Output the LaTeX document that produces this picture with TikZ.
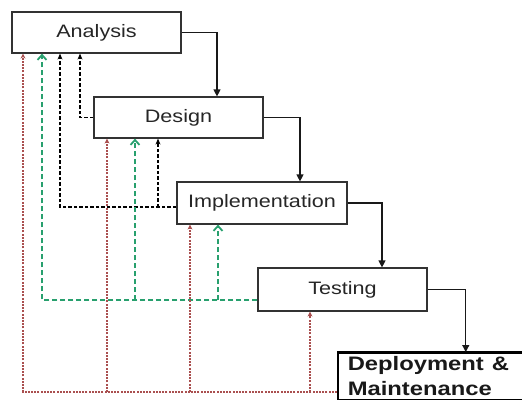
\documentclass[tikz,border=0pt]{standalone}
\usepackage{fontspec}
\setmainfont{Liberation Sans}
\usepackage{graphicx}
\usetikzlibrary{arrows.meta,calc}
\definecolor{fbgreen}{RGB}{40,160,110}
\definecolor{fbred}{RGB}{170,80,80}
\definecolor{boxline}{RGB}{50,50,50}
\newcommand{\wide}[1]{\scalebox{1.2}[1]{#1}}
\newcommand{\widebf}[1]{\scalebox{1.22}[1]{#1}}
\begin{document}
\begin{tikzpicture}[x=1pt,y=-1pt,
  phase/.style={draw=boxline,line width=1.2pt,minimum width=169pt,minimum height=41pt,
    inner sep=0pt,font=\fontsize{18}{22}\selectfont,text=black!85},
  deploy/.style={draw=black,line width=1.5pt,text width=200pt,align=left,
    inner xsep=10pt,inner ysep=4pt,font=\bfseries\fontsize{19.5}{25}\selectfont,text=black!90},
  flow/.style={draw=black!90,line width=1.2pt,-{Triangle[length=7pt,width=7pt]}},
  backblk/.style={black,line width=1.3pt,dash pattern=on 3.5pt off 2pt,
    -{Stealth[length=6pt,width=5pt]}},
  backgrn/.style={fbgreen,line width=1.8pt,dash pattern=on 5pt off 3pt,
    -{Straight Barb[length=5pt,width=9pt]}},
  backred/.style={fbred,line width=1.1pt,dash pattern=on 2pt off 1.2pt,
    -{Stealth[length=5pt,width=5pt]}}]
\useasboundingbox (0,0) rectangle (522,399);

% phases of the waterfall
\node[phase] (A) at (96.5,32.5) {\wide{Analysis}};
\node[phase] (D) at (178.5,117.5) {\wide{Design}};
\node[phase,minimum width=170pt,minimum height=42pt] (I) at (262,203) {\wide{Implementation}};
\node[phase,minimum height=43pt] (T) at (342.5,289.5) {\wide{Testing}};
\node[deploy,anchor=north west] (M) at (337,352) {\widebf{Deployment \&}\\\widebf{Maintenance}};
\draw[line width=2.8pt] (M.north west) -- (M.north east);

% forward flow
\draw[flow] (A.east) -| ([xshift=38.5pt]D.north);
\draw[flow] (D.east) -| ([xshift=38pt]I.north);
\draw[flow] (I.east) -| ([xshift=39.5pt]T.north);
\draw[flow] (T.east) -| ([xshift=18pt]M.north);

% feedback buses
\coordinate (busI) at ([yshift=-4pt]I.west);
\coordinate (busT) at ([yshift=-10.5pt]T.west);
\coordinate (busM) at ([yshift=-40pt]M.north west);

% feedback from design and implementation
\draw[backblk] (D.west) -| ([xshift=-16.5pt]A.south);
\draw[backblk] (busI) -| ([xshift=-36.5pt]A.south);
\coordinate (dI) at ([xshift=-20.5pt]D.south);
\draw[backblk] (dI |- busI) -- (dI);

% feedback from testing
\draw[backgrn] (busT) -| ([xshift=-54.5pt]A.south);
\coordinate (dT) at ([xshift=-43.5pt]D.south);
\coordinate (iT) at ([xshift=-44pt]I.south);
\draw[backgrn] (dT |- busT) -- (dT);
\draw[backgrn] (iT |- busT) -- (iT);

% feedback from deployment & maintenance
\draw[backred] (busM) -| ([xshift=-73.5pt]A.south);
\coordinate (dM) at ([xshift=-71.5pt]D.south);
\coordinate (iM) at ([xshift=-72pt]I.south);
\coordinate (tM) at ([xshift=-32.5pt]T.south);
\draw[backred] (dM |- busM) -- (dM);
\draw[backred] (iM |- busM) -- (iM);
\draw[backred] (tM |- busM) -- (tM);
\end{tikzpicture}
\end{document}
